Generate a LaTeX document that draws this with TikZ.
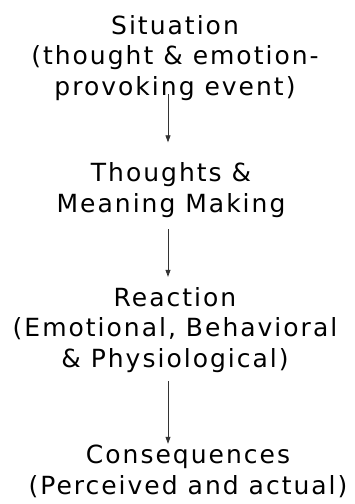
\documentclass[tikz,border=0pt]{standalone}
\usepackage{fontspec}
\setmainfont{DejaVu Sans}[LetterSpace=8]
\usetikzlibrary{arrows.meta}
\begin{document}
\begin{tikzpicture}[x=1pt,y=-1pt,
  lbl/.style={align=center, inner sep=0pt, font=\fontsize{25}{30.5}\selectfont},
  arr/.style={-{Triangle[width=5pt,length=7pt]}, line width=0.8pt, draw=black!80}]
\useasboundingbox (0,0) rectangle (354,504);
\coordinate (ax) at (168,0);
\node[lbl, anchor=base] (S) at (175,95) {Situation\\(thought \& emotion-\\provoking event)};
\node[lbl, anchor=base] (T) at (171,212) {Thoughts \&\\Meaning Making};
\node[lbl, anchor=base] (R) at (175,367) {Reaction\\(Emotional, Behavioral\\\& Physiological)};
\node[lbl, anchor=base] (C) at (188,494) {Consequences\\(Perceived and actual)};
\draw[arr] ([yshift=6pt]S.south -| ax) -- ([yshift=20pt]T.north -| ax);
\draw[arr] ([yshift=-12pt]T.south -| ax) -- ([yshift=10pt]R.north -| ax);
\draw[arr] ([yshift=-9pt]R.south -| ax) -- ([yshift=1pt]C.north -| ax);
\end{tikzpicture}
\end{document}
